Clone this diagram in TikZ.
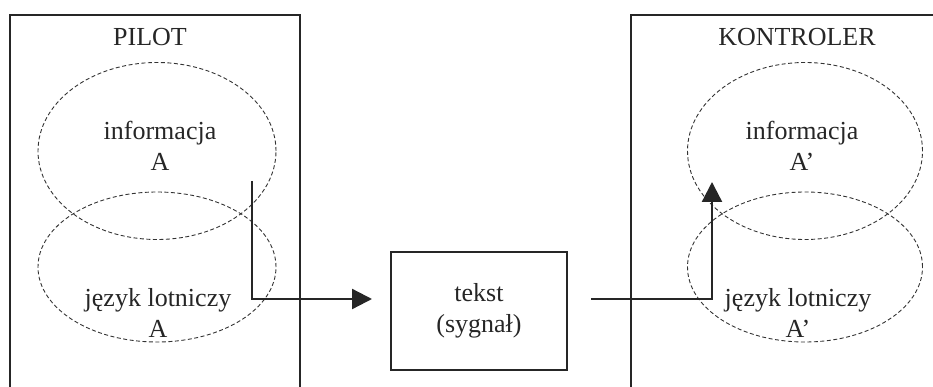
\documentclass[tikz,border=0pt]{standalone}
\usepackage{fontspec}
\setmainfont{Liberation Serif}
\usetikzlibrary{shapes.geometric,arrows.meta}
\tikzset{
  frame/.style={line width=2.2pt, draw=black!85},
  bubble/.style={ellipse, draw=black!80, line width=0.9pt, dash pattern=on 4pt off 2.5pt,
    minimum width=238pt, inner sep=0pt},
  label/.style={align=center, font=\fontsize{26}{31}\selectfont, text=black!85, inner sep=0pt},
  tip/.style={-{Triangle[length=20pt,width=20pt,fill=black!85]}, line width=2.3pt, draw=black!85},
  signal/.style={rectangle, draw=black!85, line width=2.2pt, minimum width=176pt, minimum height=118pt,
    align=center, font=\fontsize{26}{31}\selectfont, text=black!85}
}
\begin{document}
\begin{tikzpicture}[x=1pt,y=-1pt]
  \useasboundingbox (0,0) rectangle (933,387);
  % pilot frame, open at the bottom
  \draw[frame] (10,390) -- (10,15) -- (300,15) -- (300,390);
  % controller frame, open at the bottom and right
  \draw[frame] (631,390) -- (631,15) -- (936,15);

  \node[label] (pilot) at (150,37) {PILOT};
  \node[label] (kontroler) at (797,37) {KONTROLER};

  % pilot ellipses
  \node[bubble, minimum height=177pt] (pinfo) at (157,151) {};
  \node[bubble, minimum height=150pt] (plang) at (157,267) {};
  \node[label] (pinfotxt) at (160,146) {informacja\\A};
  \node[label] (plangtxt) at (158,313) {język lotniczy\\A};

  % controller ellipses
  \node[bubble, minimum height=177pt, minimum width=235pt] (kinfo) at (805,151) {};
  \node[bubble, minimum height=150pt, minimum width=235pt] (klang) at (805,267) {};
  \node[label] (kinfotxt) at (802,146) {informacja\\A’};
  \node[label] (klangtxt) at (798,313) {język lotniczy\\A’};

  % signal box
  \node[signal] (sig) at (479,311) {tekst\\(sygnał)};

  % connectors
  \coordinate (pstart) at (252,181);
  \coordinate (pcorner) at (252,299);
  \coordinate (pend) at (372,299);
  \coordinate (kstart) at (591,299);
  \coordinate (kcorner) at (712,299);
  \coordinate (kend) at (712,182);
  \draw[tip] (pstart) -- (pcorner) -- (pend);
  \draw[tip] (kstart) -- (kcorner) -- (kend);
\end{tikzpicture}
\end{document}
